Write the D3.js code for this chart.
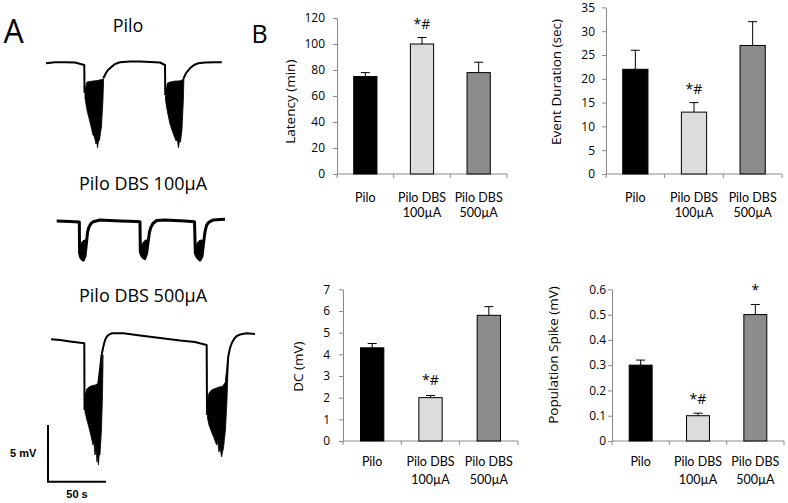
<!DOCTYPE html>
<html><head><meta charset="utf-8">
<script src="https://cdn.jsdelivr.net/npm/d3@7"></script>
<style>body{margin:0;background:#fff}svg{display:block}text{font-family:"Open Sans",sans-serif;fill:#000}</style>
</head><body>
<svg id="c" width="788" height="503"></svg>
<script>
// ---------- Bar chart data ----------
const categories = [["Pilo"], ["Pilo DBS", "100µA"], ["Pilo DBS", "500µA"]];
const barColors = ["#000000", "#dcdcdc", "#8c8c8c"];

const latency = [75, 100, 78];
const latencyErr = [3, 5, 8];
const latencySig = ["", "*#", ""];
const latencyTicks = [0, 20, 40, 60, 80, 100, 120];

const duration = [22, 13, 27];
const durationErr = [4, 2, 5];
const durationSig = ["", "*#", ""];
const durationTicks = [0, 5, 10, 15, 20, 25, 30, 35];

const dcValues = [4.3, 2.0, 5.8];
const dcErr = [0.2, 0.1, 0.4];
const dcSig = ["", "*#", ""];
const dcTicks = [0, 1, 2, 3, 4, 5, 6, 7];

const popSpike = [0.3, 0.1, 0.5];
const popSpikeErr = [0.02, 0.01, 0.04];
const popSpikeSig = ["", "*#", "*"];
const popSpikeTicks = [0, 0.1, 0.2, 0.3, 0.4, 0.5, 0.6];

// ---------- Trace data: [time (s), voltage (mV)]; null = gap ----------
const trace1Line = [[0,0],[7.8,0.1],[16.4,0.1],[25,0.07],[33,-0.15],[33.2,-2.6],[33.2,null],
  [49.4,-1.32],[51.7,-0.86],[53.4,-0.59],[56.6,-0.3],[59.5,-0.06],[63.8,0.09],[72.4,0.16],[81,0.16],[89.7,0.11],[98.3,0.07],[102.6,-0.15],[102.8,-2.8],[102.8,null],
  [118.4,-1.38],[120.7,-0.86],[124.1,-0.44],[127.6,-0.15],[131.3,0],[137.1,0.07],[145.7,0.09],[151.5,0.09]];
const trace1Bursts = [
  [[33.6,-2.35,-3.06],[35.3,-1.65,-4.12],[37.9,-1.6,-5.18],[40.5,-1.56,-6.32],[41.8,-1.55,-6.5],[43.1,-1.52,-7.12],[43.8,-1.52,-6.9],[44.4,-1.52,-7.45],[45.2,-1.5,-6.9],[46.1,-1.47,-6.76],[47.8,-1.43,-5.62],[49.1,-1.38,-3.24],[49.6,-1.38,-1.65]],
  [[103,-2.53,-3.24],[104.7,-1.74,-4.29],[106.9,-1.65,-5.36],[109.5,-1.6,-6.15],[112.1,-1.56,-6.85],[113.2,-1.56,-6.7],[114.2,-1.56,-7.45],[115,-1.54,-6.9],[115.9,-1.52,-6.94],[117.2,-1.47,-5.88],[118.4,-1.38,-3.24],[118.8,-1.38,-1.65]]
];

const trace2Line = [[0,0],[11.5,-0.04],[19.5,-0.09],[19.7,-2.82],[20.9,-3.26],[22.9,-3.44],[24.4,-3.09],[25.9,-1.68],[26.6,-0.97],[27.8,-0.53],[29.6,-0.22],[31.6,-0.06],[37.3,0.09],[45.9,0.04],[54.6,0],[63.2,-0.03],[71.8,-0.06],
  [72.1,-2.73],[73.5,-3.09],[75.7,-3.29],[77.4,-2.91],[78.7,-1.94],[80,-0.97],[81.3,-0.53],[83,-0.22],[86.2,0.04],[93.4,0.09],[102,0.04],[110.6,0],[118.8,-0.06],
  [119.5,-2.82],[121,-3.17],[123.5,-3.44],[125.3,-3.09],[126.6,-1.94],[127.8,-0.97],[129.3,-0.35],[131.3,-0.09],[135,0.09],[140.8,0.13],[145.1,0.15]];
const trace2Bursts = [
  [[20.1,-2.12,-2.73],[21.8,-1.85,-3.26],[23.5,-1.68,-3.53],[24.8,-1.68,-3.0],[25.7,-1.68,-1.85]],
  [[73,-2.12,-2.73],[74.7,-1.85,-3.26],[76.5,-1.68,-3.44],[77.8,-1.68,-2.9],[78.6,-1.68,-1.85]],
  [[120.1,-2.12,-2.73],[121.8,-1.85,-3.26],[123.5,-1.68,-3.53],[124.8,-1.68,-3.0],[125.7,-1.68,-1.85]]
];

const trace3Line = [[0,0],[7.8,-0.06],[16.4,-0.19],[28.7,-0.35],[28.9,-6.23],[28.9,null],
  [40.8,-3.88],[42.2,-2.71],[43.5,-1.47],[45.1,-0.65],[46.6,-0.06],[48,0.23],[50,0.42],[52.3,0.53],[62.3,0.53],[76.7,0.34],[94,0.11],[111.2,-0.11],[124.1,-0.24],[134.2,-0.5],[134.5,-6.68],[134.5,null],
  [150.9,-3.74],[152,-2.53],[152.8,-1.53],[154.3,-0.77],[155.8,-0.35],[157.8,0.03],[160.1,0.29],[162.9,0.42],[168.7,0.53],[175.9,0.47]];
const trace3Bursts = [
  [[29.3,-4.91,-6.41],[31,-4.38,-7.12],[32.8,-4.21,-7.82],[34.5,-4.12,-8.53],[36.2,-4.07,-9.32],[37,-4.05,-9.0],[37.9,-4.03,-10.2],[38.8,-4.0,-9.7],[39.7,-3.94,-10.82],[40.3,-3.9,-10.3],[40.9,-3.85,-11.08],[41.5,-3.6,-10.2],[42.2,-3.15,-10.2],[43.5,-2.27,-8.0],[44.4,-1.83,-4.91],[44.8,-1.38,-2.27]],
  [[134.9,-5.35,-6.94],[136.2,-4.74,-7.56],[138.4,-4.47,-8.17],[140.5,-4.38,-8.7],[142.7,-4.29,-9.32],[143.7,-4.25,-9.0],[144.8,-4.21,-9.94],[145.9,-4.18,-9.6],[147,-4.16,-10.38],[148,-4.1,-9.9],[148.7,-4.03,-9.59],[150.4,-3.77,-8.0],[151.7,-2.71,-5.35],[152.6,-1.83,-2.71]]
];
const scaleBarMv = 5, scaleBarSec = 50;

// ---------- Drawing ----------
const svg = d3.select("#c");

// trace scales (shared units)
const tx = d3.scaleLinear().domain([0, 50]).range([0, 58]);
const ty = d3.scaleLinear().domain([0, -5]).range([0, 56.7]);
const lineGen = d3.line().defined(d => d[1] !== null).x(d => tx(d[0])).y(d => ty(d[1]));
const areaGen = d3.area().x(d => tx(d[0])).y0(d => ty(d[1])).y1(d => ty(d[2]));

function drawTrace(origin, line, bursts, sw) {
  const g = svg.append("g").attr("transform", `translate(${origin[0]},${origin[1]})`);
  g.selectAll("path.b").data(bursts).join("path").attr("class", "b")
    .attr("d", areaGen).attr("fill", "#000").attr("stroke", "#000").attr("stroke-width", 0.8);
  g.append("path").attr("d", lineGen(line)).attr("fill", "none").attr("stroke", "#000")
    .attr("stroke-width", sw).attr("stroke-linejoin", "round");
  return g;
}
drawTrace([46, 63.3], trace1Line, trace1Bursts, 2);
drawTrace([56.7, 221], trace2Line, trace2Bursts, 3);
drawTrace([51, 339.3], trace3Line, trace3Bursts, 2);

// scale bar
const sb = svg.append("g").attr("transform", "translate(48,481.7)");
sb.append("path").attr("d", `M0,${-ty(-scaleBarMv)}V0H${tx(scaleBarSec)}`)
  .attr("fill", "none").attr("stroke", "#000").attr("stroke-width", 2);
svg.append("text").attr("x", 10).attr("y", 457)
  .style("font-family", "Liberation Sans, Arial").attr("font-weight", "bold").attr("font-size", 11).text(scaleBarMv + " mV");
svg.append("text").attr("x", 77).attr("y", 498).attr("text-anchor", "middle")
  .style("font-family", "Liberation Sans, Arial").attr("font-weight", "bold").attr("font-size", 11).text(scaleBarSec + " s");

// titles
svg.append("text").attr("x", 13.5).attr("y", 43).attr("text-anchor", "middle").attr("font-size", 32).text("A");
svg.append("text").attr("x", 259.5).attr("y", 43).attr("text-anchor", "middle").attr("font-size", 25).text("B");
svg.append("text").attr("x", 128).attr("y", 32).attr("text-anchor", "middle").attr("font-size", 18).text("Pilo");
svg.append("text").attr("x", 143).attr("y", 190).attr("text-anchor", "middle").attr("font-size", 18).text("Pilo DBS 100µA");
svg.append("text").attr("x", 143).attr("y", 301.5).attr("text-anchor", "middle").attr("font-size", 18).text("Pilo DBS 500µA");

// bar panels
function barPanel(cfg, values, errs, sig, ticks, label, fmt) {
  const g = svg.append("g");
  const x = d3.scaleBand().domain(d3.range(categories.length)).range([cfg.x0, cfg.x1])
    .paddingInner(cfg.pad).paddingOuter(cfg.pad / 2);
  const y = d3.scaleLinear().domain([0, ticks[ticks.length - 1]]).range([cfg.y0, cfg.y1]);

  // y axis
  const ya = g.append("g").attr("transform", `translate(${cfg.x0},0)`)
    .call(d3.axisLeft(y).tickValues(ticks).tickSize(4).tickSizeOuter(0).tickPadding(cfg.tp).tickFormat(fmt));
  ya.select(".domain").attr("stroke", "#8a8a8a");
  ya.selectAll(".tick line").attr("stroke", "#8a8a8a");
  ya.selectAll(".tick text").attr("font-size", 12).attr("fill", "#000").style("font-family", "Open Sans");

  // x axis (manual, ticks at category boundaries)
  g.append("line").attr("x1", cfg.x0).attr("x2", cfg.x1).attr("y1", cfg.y0).attr("y2", cfg.y0).attr("stroke", "#8a8a8a");
  g.selectAll("line.xt").data(d3.range(categories.length + 1)).join("line").attr("class", "xt")
    .attr("x1", i => cfg.x0 + i * x.step()).attr("x2", i => cfg.x0 + i * x.step())
    .attr("y1", cfg.y0).attr("y2", cfg.y0 + 4).attr("stroke", "#8a8a8a");

  // bars
  g.selectAll("rect").data(values).join("rect")
    .attr("x", (d, i) => x(i)).attr("width", x.bandwidth())
    .attr("y", d => y(d)).attr("height", d => cfg.y0 - y(d))
    .attr("fill", (d, i) => barColors[i]).attr("stroke", "#000").attr("stroke-width", 1);

  // error bars
  const cx = i => x(i) + x.bandwidth() / 2;
  g.selectAll("path.err").data(values).join("path").attr("class", "err")
    .attr("d", (d, i) => `M${cx(i)},${y(d)}V${y(d + errs[i])}M${cx(i) - 4.5},${y(d + errs[i])}H${cx(i) + 4.5}`)
    .attr("stroke", "#000").attr("stroke-width", 1).attr("fill", "none");

  // significance marks
  g.selectAll("text.sig").data(sig).join("text").attr("class", "sig")
    .attr("x", (d, i) => cx(i)).attr("y", (d, i) => y(values[i] + errs[i]) - cfg.so)
    .attr("text-anchor", "middle").attr("font-size", 14).text(d => d);

  // category labels (one text per category, lines as tspans)
  categories.forEach((lines, i) => {
    const t = g.append("text").attr("x", cx(i)).attr("y", cfg.cy)
      .attr("text-anchor", "middle").attr("font-size", 12.5).style("font-family", "Lato");
    lines.forEach((s, j) => {
      t.append("tspan").attr("x", cx(i)).attr("y", cfg.cy + j * cfg.cdy).text(s);
    });
  });

  // y label
  g.append("text").attr("transform", `translate(${cfg.lx},${cfg.ly}) rotate(-90)`)
    .attr("dy", "0.35em").attr("text-anchor", "middle").attr("font-size", 13.5).text(label);
}

barPanel({x0: 337, x1: 507, y0: 174, y1: 18, pad: 0.59, tp: 8, so: 9, cy: 202, cdy: 15.2, lx: 290, ly: 101.7},
  latency, latencyErr, latencySig, latencyTicks, "Latency (min)", d3.format("d"));
barPanel({x0: 606, x1: 782, y0: 174, y1: 7.4, pad: 0.57, tp: 7, so: 8.6, cy: 202, cdy: 15.2, lx: 556.7, ly: 82},
  duration, durationErr, durationSig, durationTicks, "Event Duration (sec)", d3.format("d"));
barPanel({x0: 343, x1: 518, y0: 441, y1: 289.3, pad: 0.6, tp: 9, so: 10.5, cy: 466, cdy: 18, lx: 298.3, ly: 366.7},
  dcValues, dcErr, dcSig, dcTicks, "DC (mV)", d3.format("d"));
barPanel({x0: 612, x1: 784, y0: 441, y1: 289.3, pad: 0.6, tp: 2, so: 9, cy: 466, cdy: 18, lx: 553.3, ly: 355},
  popSpike, popSpikeErr, popSpikeSig, popSpikeTicks, "Population Spike (mV)", d => d === 0 ? "0" : d3.format(".1f")(d));
</script>
</body></html>
